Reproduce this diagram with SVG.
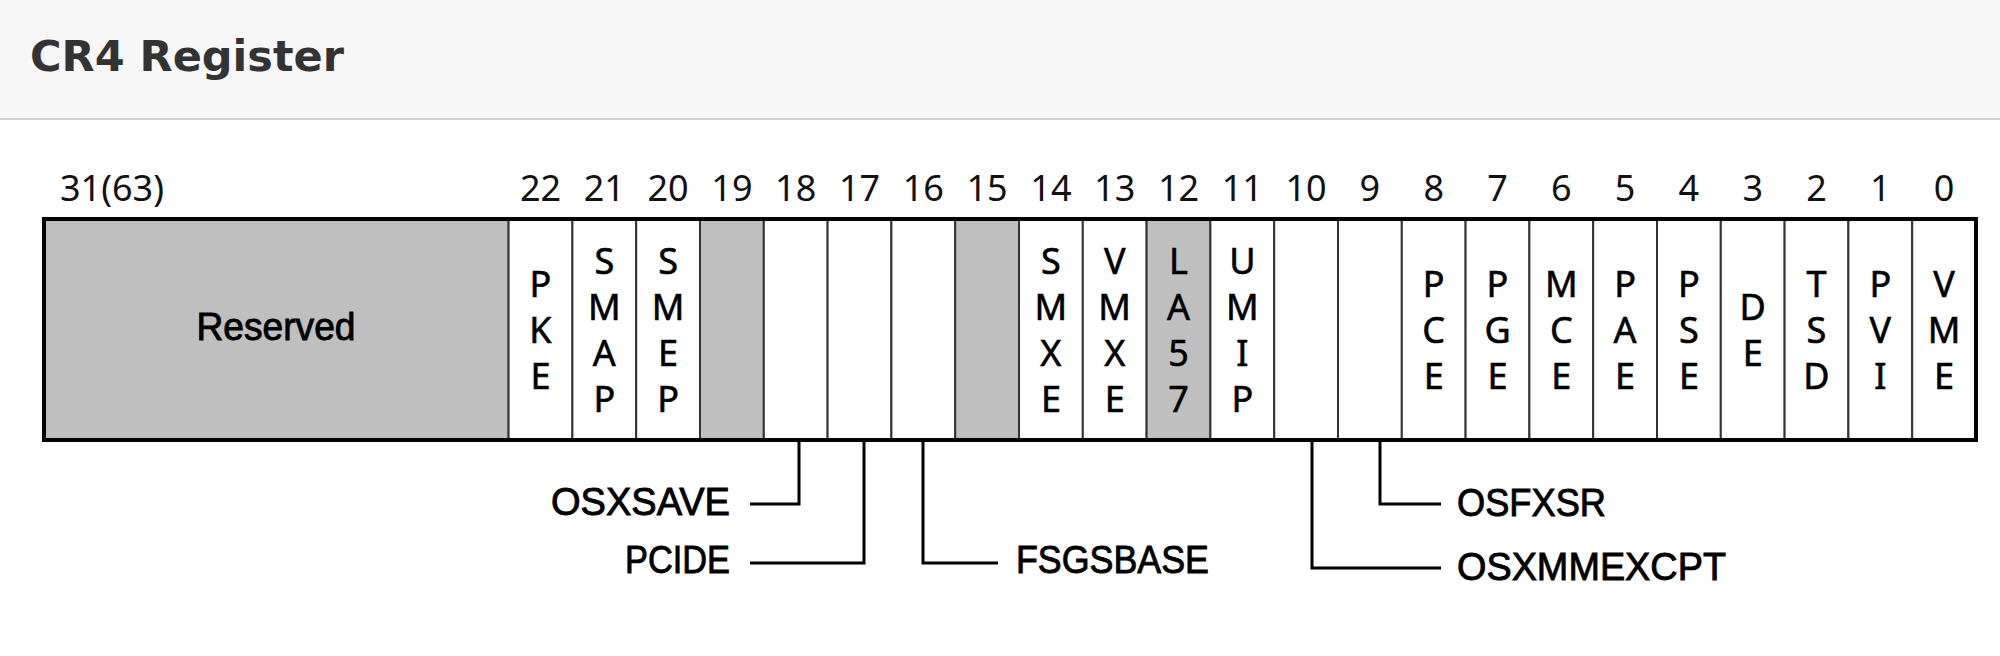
<svg xmlns="http://www.w3.org/2000/svg" width="2000" height="656" viewBox="0 0 2000 656">
<style>
.hdr{fill:#f7f7f7}
.title{font-family:"DejaVu Sans",sans-serif;font-weight:bold;font-size:43px;fill:#333}
.num{font-family:"Noto Sans",sans-serif;font-size:36px;fill:#111;text-anchor:middle}
.ltr{font-family:"Noto Sans",sans-serif;font-size:36px;fill:#000;stroke:#000;stroke-width:0.6;text-anchor:middle}
.lbl{font-family:"Liberation Sans",Arial,sans-serif;font-size:39px;fill:#000;stroke:#000;stroke-width:0.9}
.cell{fill:#fff;stroke:#333;stroke-width:2}
.gcell{fill:#bfbfbf;stroke:#333;stroke-width:2}
.conn{fill:none;stroke:#000;stroke-width:3}
</style>
<rect class="hdr" x="0" y="0" width="2000" height="118"/>
<rect x="0" y="118" width="2000" height="2" fill="#cfcfcf"/>
<text class="title" x="30" y="71">CR4 Register</text>

<g id="bitnumbers">
<text class="num" x="60" y="201" style="text-anchor:start">31(63)</text>
<text class="num" x="540.5" y="201">22</text>
<text class="num" x="604.3" y="201">21</text>
<text class="num" x="668.1" y="201">20</text>
<text class="num" x="731.9" y="201">19</text>
<text class="num" x="795.7" y="201">18</text>
<text class="num" x="859.5" y="201">17</text>
<text class="num" x="923.3" y="201">16</text>
<text class="num" x="987.1" y="201">15</text>
<text class="num" x="1050.9" y="201">14</text>
<text class="num" x="1114.7" y="201">13</text>
<text class="num" x="1178.5" y="201">12</text>
<text class="num" x="1242.3" y="201">11</text>
<text class="num" x="1306.1" y="201">10</text>
<text class="num" x="1369.9" y="201">9</text>
<text class="num" x="1433.7" y="201">8</text>
<text class="num" x="1497.5" y="201">7</text>
<text class="num" x="1561.3" y="201">6</text>
<text class="num" x="1625.1" y="201">5</text>
<text class="num" x="1688.9" y="201">4</text>
<text class="num" x="1752.7" y="201">3</text>
<text class="num" x="1816.5" y="201">2</text>
<text class="num" x="1880.3" y="201">1</text>
<text class="num" x="1944.1" y="201">0</text>
</g>

<g id="reserved">
<rect class="gcell" x="44" y="219" width="464.6" height="221"/>
<text class="lbl" x="276" y="340" text-anchor="middle" font-size="40" textLength="159" lengthAdjust="spacingAndGlyphs">Reserved</text>
</g>
<g id="bit22"><rect class="cell" x="508.6" y="219" width="63.8" height="221"/>
<text class="ltr"><tspan x="540.5" y="296.5">P</tspan><tspan x="540.5" y="342.5">K</tspan><tspan x="540.5" y="388.5">E</tspan></text></g>
<g id="bit21"><rect class="cell" x="572.4" y="219" width="63.8" height="221"/>
<text class="ltr"><tspan x="604.3" y="273.5">S</tspan><tspan x="604.3" y="319.5">M</tspan><tspan x="604.3" y="365.5">A</tspan><tspan x="604.3" y="411.5">P</tspan></text></g>
<g id="bit20"><rect class="cell" x="636.2" y="219" width="63.8" height="221"/>
<text class="ltr"><tspan x="668.1" y="273.5">S</tspan><tspan x="668.1" y="319.5">M</tspan><tspan x="668.1" y="365.5">E</tspan><tspan x="668.1" y="411.5">P</tspan></text></g>
<g id="bit19"><rect class="gcell" x="700" y="219" width="63.8" height="221"/></g>
<g id="bit18"><rect class="cell" x="763.8" y="219" width="63.8" height="221"/></g>
<g id="bit17"><rect class="cell" x="827.6" y="219" width="63.8" height="221"/></g>
<g id="bit16"><rect class="cell" x="891.4" y="219" width="63.8" height="221"/></g>
<g id="bit15"><rect class="gcell" x="955.2" y="219" width="63.8" height="221"/></g>
<g id="bit14"><rect class="cell" x="1019" y="219" width="63.8" height="221"/>
<text class="ltr"><tspan x="1050.9" y="273.5">S</tspan><tspan x="1050.9" y="319.5">M</tspan><tspan x="1050.9" y="365.5">X</tspan><tspan x="1050.9" y="411.5">E</tspan></text></g>
<g id="bit13"><rect class="cell" x="1082.8" y="219" width="63.8" height="221"/>
<text class="ltr"><tspan x="1114.7" y="273.5">V</tspan><tspan x="1114.7" y="319.5">M</tspan><tspan x="1114.7" y="365.5">X</tspan><tspan x="1114.7" y="411.5">E</tspan></text></g>
<g id="bit12"><rect class="gcell" x="1146.6" y="219" width="63.8" height="221"/>
<text class="ltr"><tspan x="1178.5" y="273.5">L</tspan><tspan x="1178.5" y="319.5">A</tspan><tspan x="1178.5" y="365.5">5</tspan><tspan x="1178.5" y="411.5">7</tspan></text></g>
<g id="bit11"><rect class="cell" x="1210.4" y="219" width="63.8" height="221"/>
<text class="ltr"><tspan x="1242.3" y="273.5">U</tspan><tspan x="1242.3" y="319.5">M</tspan><tspan x="1242.3" y="365.5">I</tspan><tspan x="1242.3" y="411.5">P</tspan></text></g>
<g id="bit10"><rect class="cell" x="1274.2" y="219" width="63.8" height="221"/></g>
<g id="bit9"><rect class="cell" x="1338" y="219" width="63.8" height="221"/></g>
<g id="bit8"><rect class="cell" x="1401.8" y="219" width="63.8" height="221"/>
<text class="ltr"><tspan x="1433.7" y="296.5">P</tspan><tspan x="1433.7" y="342.5">C</tspan><tspan x="1433.7" y="388.5">E</tspan></text></g>
<g id="bit7"><rect class="cell" x="1465.6" y="219" width="63.8" height="221"/>
<text class="ltr"><tspan x="1497.5" y="296.5">P</tspan><tspan x="1497.5" y="342.5">G</tspan><tspan x="1497.5" y="388.5">E</tspan></text></g>
<g id="bit6"><rect class="cell" x="1529.4" y="219" width="63.8" height="221"/>
<text class="ltr"><tspan x="1561.3" y="296.5">M</tspan><tspan x="1561.3" y="342.5">C</tspan><tspan x="1561.3" y="388.5">E</tspan></text></g>
<g id="bit5"><rect class="cell" x="1593.2" y="219" width="63.8" height="221"/>
<text class="ltr"><tspan x="1625.1" y="296.5">P</tspan><tspan x="1625.1" y="342.5">A</tspan><tspan x="1625.1" y="388.5">E</tspan></text></g>
<g id="bit4"><rect class="cell" x="1657" y="219" width="63.8" height="221"/>
<text class="ltr"><tspan x="1688.9" y="296.5">P</tspan><tspan x="1688.9" y="342.5">S</tspan><tspan x="1688.9" y="388.5">E</tspan></text></g>
<g id="bit3"><rect class="cell" x="1720.8" y="219" width="63.8" height="221"/>
<text class="ltr"><tspan x="1752.7" y="319.5">D</tspan><tspan x="1752.7" y="365.5">E</tspan></text></g>
<g id="bit2"><rect class="cell" x="1784.6" y="219" width="63.8" height="221"/>
<text class="ltr"><tspan x="1816.5" y="296.5">T</tspan><tspan x="1816.5" y="342.5">S</tspan><tspan x="1816.5" y="388.5">D</tspan></text></g>
<g id="bit1"><rect class="cell" x="1848.4" y="219" width="63.8" height="221"/>
<text class="ltr"><tspan x="1880.3" y="296.5">P</tspan><tspan x="1880.3" y="342.5">V</tspan><tspan x="1880.3" y="388.5">I</tspan></text></g>
<g id="bit0"><rect class="cell" x="1912.2" y="219" width="63.8" height="221"/>
<text class="ltr"><tspan x="1944.1" y="296.5">V</tspan><tspan x="1944.1" y="342.5">M</tspan><tspan x="1944.1" y="388.5">E</tspan></text></g>

<rect x="44" y="219" width="1932" height="221" fill="none" stroke="#000" stroke-width="4"/>

<g id="connectors">
<polyline class="conn" points="799,440 799,504 750,504"/>
<polyline class="conn" points="864,440 864,563 750,563"/>
<polyline class="conn" points="923,440 923,563 998,563"/>
<polyline class="conn" points="1312,440 1312,568 1441,568"/>
<polyline class="conn" points="1380,440 1380,504 1441,504"/>
</g>

<g id="labels">
<text class="lbl" x="730" y="515" text-anchor="end" textLength="179" lengthAdjust="spacingAndGlyphs">OSXSAVE</text>
<text class="lbl" x="730" y="573" text-anchor="end" textLength="105" lengthAdjust="spacingAndGlyphs">PCIDE</text>
<text class="lbl" x="1016" y="573" textLength="193" lengthAdjust="spacingAndGlyphs">FSGSBASE</text>
<text class="lbl" x="1457" y="516" textLength="149" lengthAdjust="spacingAndGlyphs">OSFXSR</text>
<text class="lbl" x="1457" y="580" textLength="269" lengthAdjust="spacingAndGlyphs">OSXMMEXCPT</text>
</g>
</svg>
